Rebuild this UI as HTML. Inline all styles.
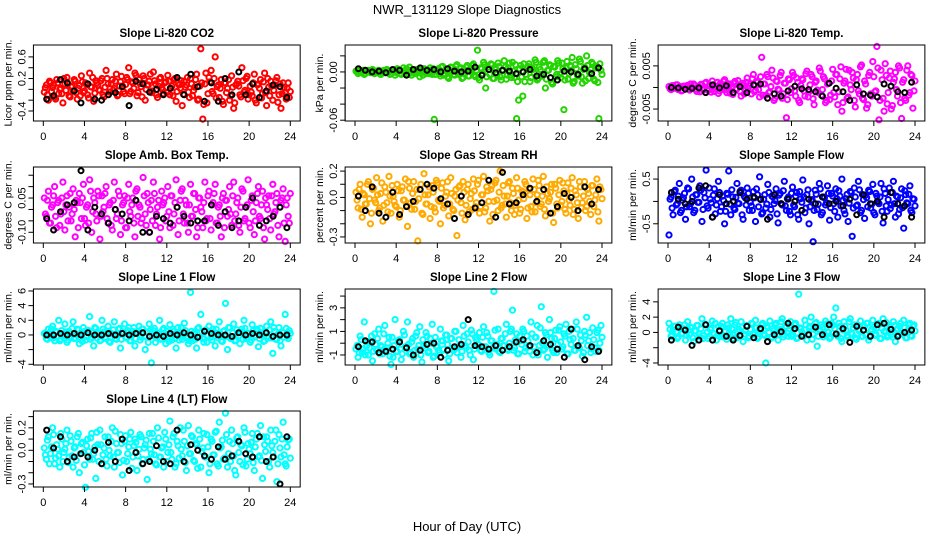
<!DOCTYPE html>
<html><head><meta charset="utf-8"><style>
html,body{margin:0;padding:0;background:#fff;}
svg{display:block;font-family:"Liberation Sans",sans-serif;}
</style></head><body>
<svg id="chart" width="936" height="540" viewBox="0 0 936 540" xmlns="http://www.w3.org/2000/svg">
<rect width="936" height="540" fill="#fff"/>
<text x="467" y="14" text-anchor="middle" font-size="13">NWR_131129  Slope Diagnostics</text>
<text x="467" y="531" text-anchor="middle" font-size="13">Hour of Day (UTC)</text>
</svg>
<script>
const titles=["Slope Li-820 CO2","Slope Li-820 Pressure","Slope Li-820 Temp.","Slope Amb. Box Temp.","Slope Gas Stream RH","Slope Sample Flow","Slope Line 1 Flow","Slope Line 2 Flow","Slope Line 3 Flow","Slope Line 4 (LT) Flow"];
const yTitles=["Licor ppm per min.","kPa per min.","degrees C per min.","degrees C per min.","percent per min.","ml/min per min.","ml/min per min.","ml/min per min.","ml/min per min.","ml/min per min."];
const colors=["#ff0000","#22d400","#ff00ff","#ff00ff","#ffaa00","#0000ff","#00ffff","#00ffff","#00ffff","#00ffff"];
const yDomains=[[-0.585,0.82],[-0.061,0.0335],[-0.00777,0.00984],[-0.147,0.186],[-0.346,0.231],[-0.93,0.77],[-4.1,6.27],[-1.85,4.6],[-4.26,5.68],[-0.327,0.35]];
const yTicks=[[-0.4,-0.2,0,0.2,0.4,0.6],[-0.06,-0.04,-0.02,0,0.02],[-0.005,0,0.005],[-0.1,-0.05,0,0.05,0.1,0.15],[-0.3,-0.2,-0.1,0,0.1,0.2],[-0.5,0,0.5],[-4,-2,0,2,4,6],[-1,0,1,2,3,4],[-4,-2,0,2,4],[-0.3,-0.2,-0.1,0,0.1,0.2,0.3]];
const yLabels=[["-0.4","0.2","0.6"],["-0.06","0.00"],["-0.005","0.005"],["-0.10","0.05"],["-0.3","0.0","0.2"],["-0.5","0.5"],["-4","0","2","4","6"],["-1","1","3"],["-4","0","2","4"],["-0.3","0.0","0.2"]];
const yLabelVals=[[-0.4,0.2,0.6],[-0.06,0],[-0.005,0.005],[-0.1,0.05],[-0.3,0,0.2],[-0.5,0.5],[-4,0,2,4,6],[-1,1,3],[-4,0,2,4],[-0.3,0,0.2]];
const xTicks=[0,4,8,12,16,20,24];
const scales=[0.01,0.001,0.0001,0.01,0.01,0.01,0.1,0.1,0.1,0.01];
const colored0=[-5,8,-20,12,3,-15,18,-8,2,-25,10,22,-12,5,-3,15,-18,7,25,-6,12,-10,30,4,-22,16,8,-2,20,-14,35,10,-5,18,2,28,-10,14,6,-8,22,40,-4,12,30,-12,18,5,25,-20,8,15,-6,32,10,-15,20,3,-8,14,26,-10,6,18,-22,12,2,-30,15,8,-5,20,-12,4,28,-18,75,-55,10,-25,22,35,-8,60,5,-15,18,-28,12,2,-20,25,-35,8,15,-10,40,-5,20,-18,6,-12,28,-25,10,18,-8,30,-30,4,15,-20,8,22,-10,-35,12,-5,2,-15];
const coloredB0=[3,-10,15,-4,8,-18,12,0,-8,20,-2,10,-14,6,18,-6,2,-12,14,-3,9,-16,5,22,-7,12,-1,16,-10,4,20,-5,10,-2,15,-12,6,24,-4,9,18,-8,14,2,26,-6,11,-14,20,0,8,28,-3,16,-10,6,22,-1,12,-6,15,2,-12,20,-4,8,16,-9,4,22,-15,10,-2,18,-20,6,12,-28,30,-8,14,-4,20,-16,8,2,-22,12,-6,18,-12,4,-25,10,6,-14,16,-2,24,-10,-5,12,-20,8,2,-16,14,-6,20,-12,6,-2,16,-24,10,-8,4,-18,12,-4];
const black0=[-18,-12,18,12,-3,-25,10,-18,-20,-10,-6,5,-30,15,10,-5,0,-10,2,22,-10,28,5,-22,12,-22,20,-10,32,-10,10,-15,-3,8,5,-15];
const colored1=[1,-2,2,0,-3,1,2,-1,3,-2,0,2,-3,1,-1,3,0,-2,2,-4,4,1,-3,5,0,-2,6,-4,2,-1,3,-6,1,4,-2,0,5,-3,-59,2,4,-5,7,-2,3,-8,6,1,-4,9,-3,5,-7,2,8,-5,0,10,-6,27,-10,4,12,-20,6,-3,9,-8,3,11,-6,2,14,-9,5,-4,12,-7,-58,-35,8,-30,-12,5,10,-7,3,15,-10,6,-4,12,-20,2,9,-13,7,-6,14,-3,11,-47,5,-9,8,18,-12,4,-5,13,-14,6,20,-8,3,10,-11,7,-58,2];
const coloredB1=[0,1,-1,2,-2,0,1,-1,2,-1,1,-2,0,2,-1,1,-3,2,0,-1,3,-2,1,-1,4,-3,2,0,-2,3,-1,2,-4,1,3,-2,0,4,-3,1,-2,6,-4,3,-6,2,5,-3,7,-1,4,-8,3,6,-5,1,8,-4,2,-7,5,-2,9,-6,3,10,-8,4,-3,7,-10,2,6,-4,11,-7,1,9,-12,4,-6,10,-3,7,-12,5,-1,12,-8,3,-5,14,-9,2,8,-15,6,-3,11,-7,4,-10,13,-2,7,-14,9,-4,16,-6,3,-11,8,-1,12,-9,5,-13,10,-3];
const black1=[4,2,0,1,-1,3,2,-4,3,5,2,3,0,4,1,0,1,6,-4,3,-1,2,1,-2,0,3,-5,-3,-7,-10,1,0,-3,4,-2,5];
const colored2=[2,-5,4,-2,6,0,-8,3,-3,5,-6,2,8,-4,1,-10,6,-2,12,-7,4,15,-9,3,-14,10,-5,18,-12,2,8,-16,14,-3,6,-20,10,-8,22,4,-15,30,-6,12,-22,70,8,-18,25,-10,40,-30,15,-4,28,-25,10,-70,20,-12,35,-8,22,-30,5,18,-20,38,-10,30,-26,12,-6,45,-18,25,-35,8,-28,15,-12,30,-40,20,-55,10,42,-22,6,35,-30,18,-8,48,-25,15,-48,28,-15,60,-10,95,-75,40,-25,55,-38,22,-50,12,35,-20,45,-72,18,-30,50,-12,28,-8];
const coloredB2=[-3,4,-1,6,-5,2,-7,3,0,-4,8,-2,5,-9,1,7,-6,10,-3,4,-11,6,-2,12,-8,3,14,-5,9,-13,2,10,-4,16,-9,5,-15,12,-1,8,20,-10,15,-5,25,-18,8,30,-12,2,22,-25,14,-6,35,-15,10,-28,18,-3,28,-20,12,-35,20,-8,32,-22,6,25,-40,15,-12,38,-5,20,-30,10,-18,42,-22,30,-10,48,-35,15,-25,40,-5,22,-45,30,-15,52,-28,8,-40,35,-20,25,-8,45,-30,18,-55,28,-12,38,-42,20,-5,50,-35,12,-25,40,-18,30,-48,15];
const black2=[0,-1,-4,-2,-1,-12,6,-1,4,-12,2,-12,6,8,-25,-15,-20,-8,3,-3,-5,-10,-20,10,-2,-10,-30,6,-15,-18,-22,8,3,-10,-12,12];
const colored3=[5,-3,8,-6,2,10,-8,4,-2,12,-9,6,1,-5,9,-12,3,7,-4,11,-7,2,13,-10,5,-2,8,-13,6,1,10,-6,3,-9,12,-4,8,-11,2,6,-8,11,-3,5,-12,9,2,-6,14,-2,7,-10,4,12,-7,1,-13,8,3,-5,10,-8,6,-2,13,-11,4,9,-6,2,-10,11,-3,7,-12,5,1,-8,12,-4,8,-9,3,11,-6,2,-12,7,4,-3,10,-7,12,-2,5,-10,9,-5,1,13,-8,6,-11,3,10,-4,8,-13,2,6,-9,11,-1,7,-12,4,9,-14,5,-6];
const coloredB3=[-2,4,-6,1,6,-3,3,-7,5,-1,2,-5,7,-2,0,4,-8,3,5,-4,1,-6,8,-1,3,-5,6,-3,-1,7,-4,2,-7,4,0,-2,6,-5,3,-8,5,-1,2,-6,8,-3,1,-4,6,-7,3,0,-5,7,-2,4,-8,2,5,-3,-1,6,-7,3,1,-5,8,-2,4,-6,2,-3,7,0,-8,5,-1,3,-5,6,-4,2,7,-6,1,-3,5,-8,4,0,-2,6,-5,3,-7,1,8,-4,2,-6,4,-1,-5,7,-3,2,-8,5,0,-4,6,-2,3,-7,1,5,-6,2,-3,7];
const black3=[-4,-9,-1,2,3,17,-9,1,-2,-6,0,-2,-5,4,-10,-10,-3,-4,-6,1,-3,-6,-5,-5,2,-7,-1,-8,-5,1,5,-7,-5,-3,1,-8];
const colored4=[4,-8,10,-15,2,-5,12,-20,6,-2,15,-10,3,-18,8,-4,16,-12,1,-6,10,-15,5,-2,14,-22,7,-9,12,-3,-33,6,-12,18,-5,2,-16,9,-8,13,-2,-20,11,-6,4,-14,15,-9,1,-29,8,-4,12,-17,6,-11,3,14,-7,10,-12,2,16,-8,5,-18,9,-3,13,-10,20,-6,1,-15,11,-4,7,-13,15,-2,-9,4,12,-16,6,-7,14,-11,2,9,-5,16,-14,3,-1,10,-19,7,-8,13,-3,5,-12,11,-6,15,-9,2,-16,8,-4,12,-7,3,-13,9,-2,14,-18,6];
const coloredB4=[-2,6,-9,3,-5,10,-1,-12,7,-4,2,-8,11,-6,4,-11,1,9,-3,-7,5,-10,8,-2,-6,12,-4,3,-9,6,-1,10,-13,2,-5,8,-7,4,-11,11,-3,7,-8,1,12,-5,3,-10,6,-2,9,-12,4,-6,10,-1,-9,5,-4,13,-7,2,-11,8,-3,6,-13,11,-2,4,-8,9,-5,1,12,-10,3,-6,7,-12,5,-1,10,-8,2,-11,6,-4,13,-7,1,-9,8,-3,4,-12,10,-5,2,-6,11,-9,3,-2,7,-13,5,-4,12,-8,1,-10,6,-3,9,-7,2,-11,8,-1];
const black4=[1,-10,8,-12,-15,4,-13,-7,-3,6,10,7,-1,-5,-16,1,-13,-8,-4,13,-15,19,-5,-4,2,7,-3,6,-12,-7,3,0,-10,8,-5,6];
const colored5=[-75,10,-30,25,-5,40,-20,8,-40,30,-12,50,-25,15,-2,35,-45,20,70,-15,5,-35,28,-8,45,-22,12,-50,18,68,-30,10,-18,40,-5,25,-40,8,30,-20,-10,22,-45,15,55,-28,5,-15,38,-35,12,-5,28,-48,18,-8,45,-20,10,-30,32,-12,20,-40,6,48,-25,15,-50,2,-90,25,-18,40,-30,10,-8,35,-42,18,-5,28,-35,12,50,-20,6,-45,22,-78,30,-10,45,-25,15,-38,8,25,-15,38,-30,12,-5,40,-48,18,-22,30,-8,45,-35,10,-18,28,-60,15,-5,35,-25,5];
const coloredB5=[5,-15,22,-8,12,-25,3,18,-12,28,-5,10,-20,15,-2,25,-18,8,-10,30,-3,14,-28,6,20,-12,2,-22,16,-6,26,-15,9,-4,22,-30,12,-8,18,-2,-20,8,28,-12,4,-25,15,-6,20,-18,10,2,-28,14,-5,24,-10,6,-22,18,-8,12,-30,22,-2,10,-15,26,-12,4,-20,16,-6,28,-25,8,-3,18,-14,12,-22,6,24,-10,2,-28,16,-4,20,-15,10,-8,26,-20,4,14,-12,22,-6,-25,18,-2,10,-22,28,-10,4,-16,20,-5,12,-28,8,-14,24,-3,16,-20,6,-10];
const black5=[20,5,-5,0,30,35,-35,15,-5,0,20,5,10,5,-40,15,-5,5,0,-20,5,-5,10,-5,0,-10,5,-30,15,-5,0,-35,20,-5,-10,-35];
const colored6=[2,-5,8,-3,12,-8,4,20,-6,1,15,-10,5,-2,18,-4,8,-12,3,10,-7,6,25,-3,-15,9,2,-8,20,4,-5,12,-10,1,18,-6,8,-18,3,15,-4,10,-8,5,-15,2,12,-3,8,-20,4,15,-38,6,-10,3,20,-5,9,-12,1,14,-7,5,-18,10,3,-6,16,-2,-12,58,-8,4,-18,10,28,-5,6,-10,12,-3,8,-15,2,18,-8,5,43,-20,10,-4,15,-7,3,-12,8,20,-5,2,-10,14,-3,6,-16,9,1,-8,12,-4,18,-25,5,-6,10,-15,3,28,-2,6];
const coloredB6=[3,-6,1,8,-4,5,-2,-8,6,-1,4,-7,2,9,-5,0,7,-3,-9,5,-2,6,-6,3,10,-4,1,-7,8,-3,5,-9,2,7,-5,-1,9,-6,4,-3,6,-8,1,10,-5,3,-7,8,-2,4,-10,6,-1,9,-4,2,-6,7,-3,5,-9,1,8,-5,3,-7,10,-2,6,-4,-8,5,2,-6,9,-3,4,-10,7,-1,5,-7,3,8,-4,1,-9,6,-2,10,-5,3,-8,7,-1,4,-6,9,-3,2,-7,6,-1,8,-5,3,-9,5,-2,7,-4,10,-6,1,-8,4,-3,9,-5,2];
const black6=[0,0,2,0,2,0,3,0,0,2,0,2,0,2,3,-2,0,-2,2,0,3,0,-3,5,2,0,0,-2,3,0,2,0,3,-2,0,0];
const colored7=[-5,-12,6,-8,18,-3,-10,2,-15,8,-6,12,-2,-9,15,-4,5,-18,-12,20,-7,3,-14,10,-3,18,-9,1,-12,6,-5,14,-16,-2,9,-8,4,16,-11,-3,-6,12,2,-10,7,-15,4,-4,10,-8,3,-12,15,-2,8,-6,11,-14,5,-1,9,-7,14,-3,6,-10,2,44,-5,12,-8,4,-2,16,-6,10,28,-4,8,-9,2,12,-7,6,-3,18,-10,5,15,-2,31,-6,9,-12,20,4,-8,11,-1,14,-5,8,16,-9,3,12,-6,18,-3,7,-11,10,22,2,-8,13,-4,9,-6,15];
const coloredB7=[-2,-8,3,-5,-10,1,-4,6,-7,-1,4,-9,-3,8,-6,0,-11,5,-2,-7,2,-5,-9,7,-3,-1,-8,4,-6,9,-2,-10,3,-4,6,-7,0,-12,5,-3,-8,2,-5,7,-1,-9,4,-6,10,-3,-2,-7,6,-4,1,-10,8,-5,3,-1,-6,5,-3,9,-8,2,-4,11,-1,-7,4,-2,8,-5,0,12,-6,3,-9,6,-1,10,-4,2,-7,8,-3,5,-10,13,0,-5,7,-2,9,-6,4,-8,11,1,-3,6,-9,10,-1,4,-6,12,-4,2,-8,7,-2,9,-5,3,-7,11,0,5];
const black7=[-3,2,1,-8,-7,-5,1,-4,-10,-6,-1,0,-12,-6,-3,-1,20,-2,-3,-5,-2,-6,-3,1,3,-2,-8,2,-1,-5,-12,12,-2,-14,-3,-7];
const colored8=[12,-5,3,8,-8,10,-2,5,-10,14,-3,6,-12,2,9,-6,18,-4,10,-8,4,15,-2,-10,8,-5,12,1,-9,6,18,-3,10,-7,4,14,-12,2,8,-5,12,-3,16,-8,5,10,-2,-40,6,15,-6,2,12,-10,4,18,-3,8,-5,14,-2,10,-8,50,5,-3,16,-10,6,20,-2,12,-18,4,10,-6,15,1,-8,12,20,32,-5,8,-12,14,3,-6,18,-2,10,-9,4,15,-5,8,12,-10,2,16,-4,6,12,-8,18,2,-6,10,-3,14,-12,5,8,-2,16,-7,3,12,-5,10];
const coloredB8=[4,-3,8,1,-6,6,-1,10,-4,3,7,-7,2,9,-2,5,-8,11,0,-5,6,-1,12,-4,3,8,-6,2,10,-3,5,-8,13,1,-5,7,-2,9,-7,4,11,-1,6,-6,3,12,-4,8,0,-8,5,10,-3,2,14,-6,7,-1,9,-5,3,12,-7,6,1,-4,10,-2,8,-9,4,13,-5,2,7,-3,11,0,-6,9,5,-2,12,-8,3,8,-4,14,-1,6,-7,10,2,-5,9,-3,12,-6,4,7,-2,11,-8,5,1,13,-4,7,-6,9,3,-3,12,-1,6,-7,10,-4,8,2];
const black8=[-10,7,3,-17,-10,10,-10,2,-5,-10,-4,8,-7,5,-12,-3,1,12,5,-5,-3,7,-3,10,-2,5,-13,8,3,-5,10,12,4,-5,0,3];
const colored9=[2,-8,12,-3,20,-12,5,-5,15,-10,1,18,-6,8,-15,3,12,-20,6,-2,-33,10,-8,15,-3,-25,5,18,-12,2,-8,12,-5,20,-15,6,-2,14,-22,8,-10,3,16,-6,10,-18,1,12,-8,5,-26,15,-3,8,-12,20,-6,2,-15,10,-2,26,-8,15,-12,4,20,-5,8,-18,22,-3,12,-10,5,18,-15,2,-6,14,-20,10,-4,16,-12,25,3,-8,33,-15,8,18,-5,-22,12,-10,4,20,-14,6,-3,15,-18,10,-6,22,-25,5,12,-10,18,-2,8,-28,14,-6,25,-12,3,10];
const coloredB9=[-4,9,-12,3,14,-7,1,-15,10,-2,6,-11,13,-5,2,-9,15,-3,7,-13,4,-1,11,-8,3,16,-10,5,-4,12,-14,0,8,-6,17,-2,-11,6,-9,13,-3,10,-16,4,7,-5,14,-12,2,9,-8,1,15,-4,-13,11,-6,3,16,-10,5,-2,12,-15,8,-7,1,18,-11,4,-3,13,-9,6,-16,10,-1,15,-6,3,-12,8,-4,17,-14,2,9,-7,14,-3,-10,6,-18,11,-2,5,-13,16,-8,1,7,-11,3,15,-5,-9,12,-1,8,-15,4,-6,18,-12,2,10,-4,-14,9,-7];
const black9=[18,2,12,-10,-6,-3,-6,0,-12,7,-10,10,-18,-2,-12,-10,4,-10,-12,18,-10,5,0,-5,-8,3,-8,-5,8,-3,-6,12,-10,-6,-30,12];
const coloredSets=[colored0,colored1,colored2,colored3,colored4,colored5,colored6,colored7,colored8,colored9];
const coloredSetsB=[coloredB0,coloredB1,coloredB2,coloredB3,coloredB4,coloredB5,coloredB6,coloredB7,coloredB8,coloredB9];
const blackSets=[black0,black1,black2,black3,black4,black5,black6,black7,black8,black9];

const NS="http://www.w3.org/2000/svg";
const svg=document.getElementById("chart");
const colX0=[43.3,355,668], rowTop=[45,167,289,411], boxH=76, pxPerHour=247/24;
function mk(tag,attrs,parent){const e=document.createElementNS(NS,tag);for(const k in attrs)e.setAttribute(k,attrs[k]);(parent||svg).appendChild(e);return e;}
for(let p=0;p<10;p++){
  const col=p%3,row=Math.floor(p/3);
  const x0=colX0[col], left=x0-0.96*pxPerHour, w=25.92*pxPerHour, top=rowTop[row], bottom=top+boxH;
  const [lo,hi]=yDomains[p];
  const xs=h=>x0+h*pxPerHour;
  const ys=v=>bottom-(v-lo)/(hi-lo)*boxH;
  const g=mk("g",{});
  
  
  const t=mk("text",{x:left+w/2,y:top-8,"text-anchor":"middle","font-size":"11.5","font-weight":"bold"},g);
  t.textContent=titles[p];
  
  
  const yt=mk("text",{transform:`translate(${left-22},${top+boxH/2}) rotate(-90)`,"text-anchor":"middle","font-size":"10.5"},g);
  yt.textContent=yTitles[p];
  
  
  const c=coloredSets[p], cb=coloredSetsB[p], b=blackSets[p];
  const pg=mk("g",{fill:"none",stroke:colors[p],"stroke-width":"2"},g);
  
  
  c.forEach((v,i)=>{const h=(i+0.5)*24/c.length;
    const cc=mk("circle",{cx:xs(h).toFixed(1),cy:ys(v*scales[p]).toFixed(1),r:"2.6"},pg);
    
    
  });
  cb.forEach((v,i)=>{const h=(i+1)*24/cb.length;
    const cc=mk("circle",{cx:xs(h).toFixed(1),cy:ys(v*scales[p]).toFixed(1),r:"2.6"},pg);
    
    
  });
  const bg=mk("g",{fill:"none",stroke:"#000","stroke-width":"2"},g);
  
  
  b.forEach((v,i)=>{const h=(i+0.5)*24/b.length;
    const cc=mk("circle",{cx:xs(h).toFixed(1),cy:ys(v*scales[p]).toFixed(1),r:"2.5"},bg);
    
    
  });
  const box=mk("rect",{x:left,y:top,width:w,height:boxH,fill:"none",stroke:"#000","stroke-width":"1"},g);
  
  
  mk("line",{x1:xs(0),x2:xs(24),y1:bottom,y2:bottom,stroke:"#000"},g);
  xTicks.forEach(h=>{
    mk("line",{x1:xs(h),x2:xs(h),y1:bottom,y2:bottom+5,stroke:"#000"},g);
    const tl=mk("text",{x:xs(h),y:bottom+19,"text-anchor":"middle","font-size":"11"},g);
    tl.textContent=h;
    
    
  });
  const tk=yTicks[p];
  mk("line",{x1:left,x2:left,y1:ys(tk[0]),y2:ys(tk[tk.length-1]),stroke:"#000"},g);
  tk.forEach(v=>mk("line",{x1:left-5,x2:left,y1:ys(v),y2:ys(v),stroke:"#000"},g));
  yLabelVals[p].forEach((v,i)=>{
    const tl=mk("text",{transform:`translate(${left-8},${ys(v)}) rotate(-90)`,"text-anchor":"middle","font-size":"11"},g);
    tl.textContent=yLabels[p][i];
    
    
  });
}
</script>
</body></html>
